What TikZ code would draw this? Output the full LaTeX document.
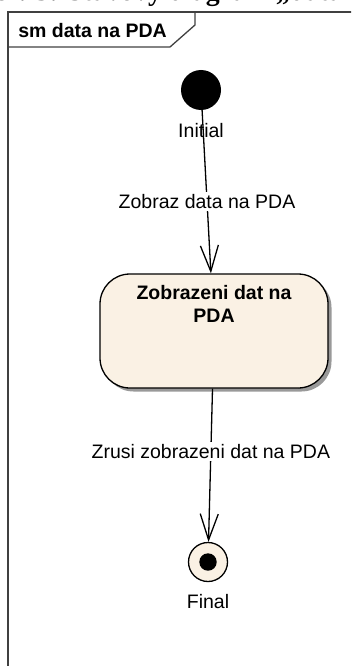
\documentclass[tikz,border=0pt]{standalone}
\usepackage{fontspec}
\setmainfont{Liberation Sans}
\newfontfamily\captfont{Liberation Serif}
\usetikzlibrary{arrows.meta,shadows}
\definecolor{statefill}{RGB}{250,241,228}

\begin{document}
\begin{tikzpicture}[x=1pt,y=-1pt]
 \tikzstyle{txt}=[font=\fontsize{19.5}{23}\selectfont, inner sep=0pt]
 \tikzstyle{txtb}=[font=\bfseries\fontsize{19.5}{23}\selectfont, inner sep=0pt]
 \tikzstyle{zustand}=[draw, line width=1.3pt, fill=statefill, rounded corners=30pt, minimum width=228pt, minimum height=114pt, drop shadow={shadow xshift=3.5pt, shadow yshift=-3.5pt, fill=black!40, opacity=1}]
 \tikzstyle{prechod}=[-{Straight Barb[length=26pt,width=18pt]}, line width=1.3pt]
 \tikzstyle{popis}=[txt, fill=white, inner sep=2pt]
 \tikzstyle{rahmen}=[line width=1.3pt, black!75]
 %
 \useasboundingbox (0,0) rectangle (351,666);
 \clip (0,0) rectangle (351,666);
 \node[anchor=base west, inner sep=0pt, font=\captfont\bfseries\fontsize{27.8}{30}\selectfont] (obr) at (-28,0.5) {Obr. 3: Stavový diagram „data na PDA“};
 %
 \draw[rahmen] (8,667) -- (8,12) -- (352,12);
 \draw[rahmen] (8,47) -- (170,47) -- (195,25) -- (195,12);
 \node[txtb] (title) at (92.5,30.5) {sm data na PDA};
 %
 \node[circle, fill=black, minimum size=40pt, inner sep=0pt, label={[txt, label distance=13pt]below:Initial}] (init) at (201,90) {};
 \node[zustand, label={[txtb, align=center, anchor=north, yshift=-12pt]north:{Zobrazeni dat na\\PDA}}] (zdp) at (214,331) {};
 \node[circle, draw, line width=1.3pt, fill=statefill, minimum size=39pt, inner sep=0pt, path picture={\fill[black] (path picture bounding box.center) circle (8.7pt);}, label={[txt, label distance=12.5pt]below:Final}] (final) at (208,562) {};
 %%
 \draw[prechod] (init) -- node[popis, pos=0.56] (lbl1) {Zobraz data na PDA} (zdp);
 \draw[prechod] (zdp) -- node[popis, pos=0.41] (lbl2) {Zrusi zobrazeni dat na PDA} (final);
\end{tikzpicture}
\end{document}
